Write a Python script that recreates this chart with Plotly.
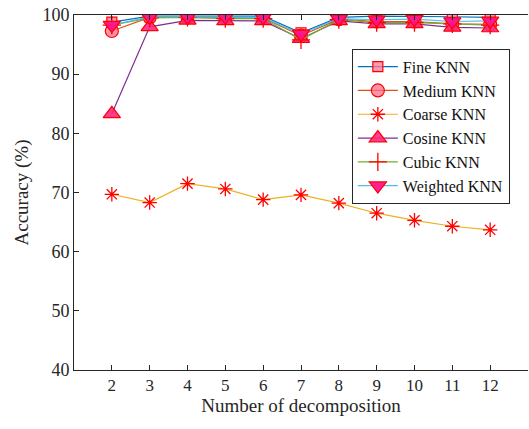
import plotly.graph_objects as go

decomp = [2, 3, 4, 5, 6, 7, 8, 9, 10, 11, 12]
fine_knn = [98.8, 99.8, 99.8, 99.8, 99.8, 97.0, 99.6, 99.8, 99.8, 99.7, 99.6]
medium_knn = [97.3, 99.6, 99.6, 99.5, 99.5, 96.5, 99.3, 98.9, 98.9, 98.5, 98.4]
coarse_knn = [69.7, 68.3, 71.5, 70.6, 68.8, 69.6, 68.2, 66.5, 65.3, 64.3, 63.7]
cosine_knn = [83.3, 98.0, 99.1, 99.0, 99.0, 96.0, 99.0, 98.5, 98.5, 97.9, 97.8]
cubic_knn = [98.3, 99.5, 99.6, 99.4, 99.4, 95.8, 99.2, 98.7, 98.7, 98.5, 98.3]
weighted_knn = [98.3, 99.7, 99.7, 99.7, 99.6, 96.8, 99.4, 99.2, 99.3, 98.9, 99.0]

series = [
    ("Fine KNN", fine_knn, "#0072BD", "square", 10, "rgba(255,120,150,0.75)"),
    ("Medium KNN", medium_knn, "#D95319", "circle", 13, "rgba(255,110,140,0.75)"),
    ("Coarse KNN", coarse_knn, "#EDB120", "asterisk-open", 12, "red"),
    ("Cosine KNN", cosine_knn, "#7E2F8E", "triangle-up", 15, "rgba(255,40,130,0.9)"),
    ("Cubic KNN", cubic_knn, "#77AC30", "cross-thin-open", 13, "red"),
    ("Weighted KNN", weighted_knn, "#4DBEEE", "triangle-down", 15, "rgba(255,20,140,0.95)"),
]

SERIF = "'Times New Roman', 'Liberation Serif', Times, serif"

fig = go.Figure()
for name, vals, lc, sym, sz, fc in series:
    open_sym = sym.endswith("open")
    fig.add_trace(go.Scatter(
        x=decomp, y=vals, name=name, mode="lines+markers",
        line=dict(color=lc, width=1.2),
        marker=dict(symbol=sym, size=sz, color=fc,
                    line=dict(color="red", width=1.2 if not open_sym else 1.3)),
    ))

fig.update_layout(
    width=529, height=429,
    margin=dict(l=74, r=1, t=15, b=59, autoexpand=False),
    paper_bgcolor="white", plot_bgcolor="white",
    font=dict(family=SERIF, size=16, color="#262626"),
    showlegend=True,
    legend=dict(x=0.612, y=0.905, xanchor="left", yanchor="top",
                bgcolor="white", bordercolor="#262626", borderwidth=1,
                font=dict(family=SERIF, size=16, color="#111"),
                itemwidth=40, tracegroupgap=0),
    xaxis=dict(range=[1, 13], tickmode="array", tickvals=decomp,
               ticks="inside", ticklen=5, tickcolor="#262626",
               showline=True, linecolor="#262626", linewidth=1,
               mirror="ticks", showgrid=False, zeroline=False, automargin=False,
               title=dict(text="Number of decomposition", font=dict(family=SERIF, size=19, color="#262626"), standoff=4),
               tickfont=dict(family=SERIF, size=17, color="#262626")),
    yaxis=dict(range=[40, 100], tickmode="array", tickvals=[40, 50, 60, 70, 80, 90, 100],
               ticks="inside", ticklen=5, tickcolor="#262626",
               showline=True, linecolor="#262626", linewidth=1,
               showgrid=False, zeroline=False, automargin=False,
               title=dict(text="Accuracy (%)", font=dict(family=SERIF, size=19, color="#262626"), standoff=8),
               tickfont=dict(family=SERIF, size=18, color="#262626")),
)

fig.write_html("out.html", config={"displayModeBar": False},
               post_script="document.body.style.margin='0';document.body.style.overflow='hidden';")
